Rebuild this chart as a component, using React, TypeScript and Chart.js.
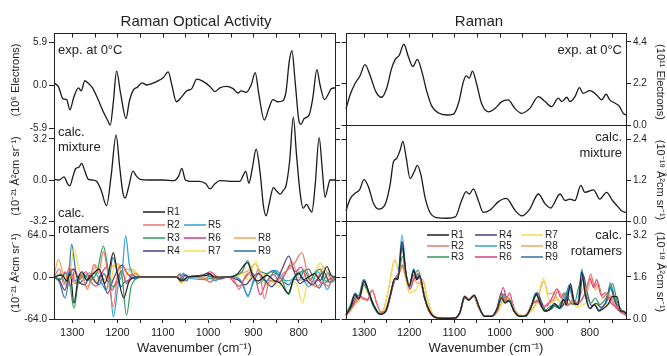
import React, { useEffect, useRef } from 'react';
import { Chart, registerables } from 'chart.js';

Chart.register(...registerables);

const FONT = '"Liberation Sans", Arial, Helvetica, sans-serif';
const INK = '#222222';

type Pt = [number, number];

// ---------- axes ----------
const xMin = 720;
const xMax = 1340;
const xTicks = [1300, 1250, 1200, 1150, 1100, 1050, 1000, 950, 900, 850, 800, 750];
const xTitle = 'Wavenumber (cm⁻¹)';

const roaExpTicks = [-5.9, 0, 5.9];
const roaMixTicks = [-3.2, 0, 3.2];
const roaRotTicks = [-64, 0, 64];
const ramExpTicks = [0, 2.2, 4.4];
const ramMixTicks = [0, 1.2, 2.4];
const ramRotTicks = [0, 1.6, 3.2];

const rotNames = ['R1', 'R2', 'R3', 'R4', 'R5', 'R6', 'R7', 'R8', 'R9'];
const rotColors = ['#1f1f1f', '#e8776a', '#2e9c5a', '#4b3c7e', '#2f9fd8', '#d93c7c', '#f3dc4a', '#f2a65a', '#2f6f9f'];

// ---------- ROA data ----------
const roaExp: Pt[] = [[1340,0.3],[1330,-0.25],[1320,-1.9],[1312,-2.0],[1305,-3.4],[1296,-1.6],[1286,-0.4],[1280,-0.8],[1272,0.6],[1264,0.2],[1255,-0.4],[1242,-2.1],[1231,-3.7],[1222,-4.8],[1216,-5.5],[1209,-2.3],[1202,1.9],[1193,-1.2],[1181,-4.6],[1174,-2.3],[1165,-0.7],[1156,-0.3],[1146,0.3],[1135,0],[1124,0.2],[1113,0.5],[1099,1.0],[1088,1.8],[1080,0],[1070,-2.3],[1058,-1.6],[1047,-0.8],[1036,-0.5],[1025,0.8],[1011,0.5],[996,-0.2],[985,-0.9],[974,-0.4],[960,-0.2],[945,-0.5],[934,-1.1],[927,-0.8],[916,-1.0],[905,0],[896,1.7],[888,-1.3],[876,-4.8],[866,-3.2],[857,-2.0],[846,-2.3],[836,-2.2],[828,-0.9],[821,3.2],[815,4.7],[808,0.5],[799,-5.1],[795,-5.4],[788,-4.6],[777,-4.1],[769,-1.8],[760,2.1],[753,0],[743,-2.0],[736,-1.4],[728,-0.5],[720,-0.4]];

const roaMix: Pt[] = [[1340,0.05],[1328,0],[1318,0.25],[1310,-0.3],[1305,-0.45],[1298,0.3],[1292,0.9],[1285,1.0],[1279,1.3],[1272,0.7],[1264,0.05],[1255,0],[1246,-0.1],[1236,-0.8],[1224,-2.0],[1214,0.3],[1203,3.5],[1195,1.0],[1188,-1.0],[1183,-1.4],[1175,-0.5],[1166,0.7],[1158,0.3],[1150,0.05],[1130,0],[1100,0],[1075,-0.05],[1065,0.3],[1058,0.9],[1050,0],[1040,-0.1],[1020,-0.1],[1005,-0.3],[996,-0.7],[985,-0.3],[974,-0.05],[950,-0.1],[930,-0.1],[922,0.4],[917,0.7],[910,-0.25],[903,0.8],[894,2.4],[885,0.5],[878,-2.0],[872,-2.8],[865,-1.8],[856,-0.6],[848,-0.9],[841,-1.1],[834,-0.8],[828,-0.45],[820,1.5],[812,4.9],[805,2.0],[797,-1.0],[790,-2.2],[783,-1.9],[776,-2.3],[771,-2.5],[764,-0.5],[755,3.3],[748,0.8],[742,-1.35],[736,-0.6],[731,0],[720,0]];

const roaR1: Pt[] = [[1340,0],[1322,3],[1312,-6],[1304,5],[1296,-40],[1287,-3],[1278,8],[1268,-5],[1255,4],[1240,12],[1228,-10],[1220,5],[1209,37],[1200,5],[1186,-32],[1175,-8],[1160,0],[1070,0],[1060,-6],[1052,-4],[1045,0],[1005,2],[996,5],[988,0],[950,0],[935,5],[913,22],[902,2],[890,-6],[870,3],[855,-5],[840,-10],[823,-25],[812,-4],[800,6],[790,-4],[778,0],[765,5],[752,-5],[738,16],[728,2],[720,0]];
const roaR2: Pt[] = [[1340,0],[1328,12],[1318,-12],[1306,15],[1294,-10],[1280,4],[1266,-19],[1252,19],[1242,5],[1231,39],[1222,8],[1209,-45],[1198,12],[1188,15],[1176,3],[1160,5],[1150,0],[1070,0],[1060,4],[1052,-5],[1042,0],[1005,-3],[996,-8],[985,-2],[950,0],[940,-8],[932,-19],[922,-4],[912,6],[900,-2],[888,12],[876,-33],[864,-5],[850,-8],[835,5],[822,12],[810,20],[793,37],[782,10],[770,-10],[760,-15],[748,-8],[735,-14],[725,-3],[720,0]];
const roaR3: Pt[] = [[1340,0],[1325,-3],[1314,6],[1305,-10],[1296,-48],[1287,-10],[1276,5],[1260,-5],[1245,8],[1231,47],[1220,10],[1210,-15],[1198,-5],[1192,8],[1180,-58],[1170,-15],[1160,-3],[1150,0],[1070,0],[1062,5],[1054,-3],[1045,0],[1000,3],[990,-2],[960,0],[925,8],[913,25],[902,5],[890,-10],[878,-3],[862,8],[850,5],[838,-3],[822,-27],[812,-5],[800,5],[788,10],[775,-5],[765,6],[752,12],[742,-5],[730,-8],[720,0]];
const roaR4: Pt[] = [[1340,0],[1328,-5],[1316,-20],[1306,5],[1296,12],[1286,-6],[1272,-12],[1260,3],[1245,-10],[1236,4],[1222,-25],[1210,-5],[1200,10],[1190,18],[1178,5],[1160,-3],[1150,0],[1070,0],[1060,-4],[1050,3],[1040,0],[1010,3],[1000,6],[990,2],[975,-3],[960,0],[935,-4],[918,-12],[905,-3],[890,5],[875,-5],[860,-15],[848,-5],[835,15],[822,32],[810,8],[798,-10],[785,-5],[770,-12],[758,-3],[745,8],[732,-8],[720,0]];
const roaR5: Pt[] = [[1340,0],[1326,4],[1316,-8],[1305,10],[1294,-6],[1280,3],[1265,-5],[1250,6],[1236,-8],[1225,-20],[1218,-5],[1209,-61],[1198,-10],[1190,5],[1182,63],[1174,20],[1165,3],[1155,0],[1070,0],[1062,-3],[1055,6],[1048,0],[1005,-4],[995,-2],[985,-6],[970,0],[940,0],[925,-8],[912,-30],[900,-5],[888,5],[870,-6],[852,10],[840,4],[828,-6],[815,-4],[800,8],[788,-6],[778,-15],[768,-5],[758,8],[748,-3],[737,-19],[728,-6],[720,0]];
const roaR6: Pt[] = [[1340,0],[1326,-4],[1315,8],[1304,-14],[1294,10],[1284,-4],[1270,8],[1258,-8],[1246,-14],[1235,5],[1224,15],[1212,-20],[1202,-5],[1190,10],[1180,-10],[1168,3],[1155,0],[1070,0],[1062,-2],[1052,4],[1042,0],[1005,5],[995,8],[985,3],[972,-3],[955,0],[940,-10],[930,-14],[920,-3],[905,8],[895,-3],[885,-27],[872,-8],[855,4],[842,-8],[830,5],[818,18],[808,8],[795,15],[782,-4],[770,-12],[758,-5],[745,-10],[732,-3],[720,0]];
const roaR7: Pt[] = [[1340,0],[1326,5],[1316,-10],[1306,-5],[1296,45],[1286,15],[1275,-5],[1262,5],[1250,-8],[1238,3],[1224,-20],[1214,-5],[1205,20],[1196,14],[1186,-5],[1176,8],[1166,12],[1155,5],[1145,0],[1070,0],[1062,-5],[1055,-8],[1048,-2],[1040,0],[1000,-2],[990,3],[975,0],[940,0],[925,5],[910,-5],[895,24],[884,5],[870,3],[856,-8],[843,-14],[830,-5],[818,-6],[805,-10],[792,-40],[782,-12],[770,0],[752,21],[742,5],[730,-6],[720,0]];
const roaR8: Pt[] = [[1340,2],[1330,27],[1320,5],[1310,-8],[1300,12],[1290,-10],[1280,5],[1268,-15],[1258,-5],[1250,19],[1240,8],[1230,-5],[1218,10],[1208,18],[1198,20],[1190,8],[1180,12],[1168,10],[1155,3],[1145,0],[1070,0],[1060,-9],[1052,-4],[1044,0],[1010,-3],[995,-8],[985,-3],[970,0],[940,0],[925,6],[910,10],[896,20],[885,5],[870,-12],[858,-5],[845,-8],[830,5],[815,24],[805,8],[795,-5],[783,5],[770,-8],[760,-3],[745,15],[735,3],[725,-5],[720,0]];
const roaR9: Pt[] = [[1340,0],[1328,-8],[1316,-32],[1308,-5],[1301,50],[1292,8],[1284,-10],[1275,-3],[1262,6],[1250,-6],[1240,-12],[1230,5],[1220,-8],[1210,30],[1200,5],[1192,-15],[1185,-8],[1175,-5],[1160,0],[1070,0],[1062,3],[1055,-5],[1048,-6],[1040,0],[1005,-2],[995,2],[985,-5],[975,-2],[960,0],[940,0],[925,-10],[912,-28],[900,-8],[885,8],[870,5],[856,10],[845,3],[832,-8],[822,-12],[812,-3],[800,-5],[790,8],[778,12],[766,-6],[755,-17],[745,-5],[735,6],[726,-8],[720,-3]];

// ---------- Raman data ----------
const ramExp: Pt[] = [[1340,0.85],[1331,1.59],[1320,2.2],[1309,2.6],[1298,3.2],[1287,2.65],[1274,1.77],[1261,1.47],[1250,1.95],[1239,3.0],[1231,3.48],[1222,3.7],[1212,4.28],[1202,3.63],[1192,3.1],[1182,3.48],[1172,2.83],[1161,1.77],[1150,1.0],[1136,0.65],[1117,0.53],[1102,0.58],[1091,1.15],[1080,2.3],[1074,2.6],[1067,2.48],[1060,2.86],[1051,2.2],[1040,1.15],[1025,0.7],[1010,0.88],[995,1.24],[981,1.33],[966,0.88],[951,0.62],[933,0.88],[914,1.5],[899,1.24],[885,0.97],[870,1.42],[862,1.24],[851,1.47],[844,1.24],[833,1.5],[823,1.98],[815,1.68],[800,1.82],[785,1.59],[774,1.33],[764,1.63],[756,1.33],[744,1.15],[735,1.0],[726,0.62],[720,0.53]];

const ramMix: Pt[] = [[1340,0.3],[1331,0.64],[1320,0.81],[1310,0.91],[1300,1.21],[1290,0.99],[1279,0.51],[1268,0.35],[1253,0.5],[1242,1.09],[1235,1.73],[1228,1.83],[1220,2.08],[1214,2.33],[1207,1.88],[1198,1.24],[1189,1.44],[1182,1.63],[1174,1.34],[1165,0.69],[1154,0.25],[1139,0.1],[1117,0.08],[1098,0.12],[1084,0.6],[1074,0.86],[1067,0.79],[1058,0.94],[1047,0.6],[1036,0.25],[1021,0.32],[1003,0.56],[985,0.66],[966,0.32],[951,0.15],[933,0.35],[914,0.79],[899,0.5],[887,0.38],[866,0.79],[855,0.6],[844,0.64],[833,0.6],[820,1.04],[811,0.84],[792,0.91],[778,0.64],[763,0.84],[750,0.6],[740,0.45],[730,0.3],[720,0.25]];

const ramR1: Pt[] = [[1340,0.15],[1330,0.45],[1320,0.95],[1312,0.75],[1300,1.45],[1290,1.05],[1278,0.5],[1264,0.18],[1252,0.3],[1242,0.9],[1232,1.55],[1225,1.5],[1216,2.95],[1207,1.7],[1200,1.25],[1190,1.85],[1184,1.5],[1177,1.65],[1166,0.8],[1155,0.3],[1142,0.06],[1125,0.02],[1100,0.03],[1088,0.25],[1077,0.85],[1068,0.72],[1056,0.9],[1045,0.45],[1033,0.1],[1018,0.1],[1006,0.35],[996,0.8],[988,0.6],[980,0.7],[968,0.3],[955,0.1],[942,0.12],[930,0.45],[919,0.95],[910,0.6],[900,0.3],[890,0.35],[878,0.6],[868,0.4],[858,0.75],[852,0.55],[843,1.35],[834,0.6],[826,0.55],[818,1.8],[810,0.9],[800,0.4],[790,0.55],[780,0.3],[770,0.4],[760,0.55],[750,0.85],[740,0.85],[732,0.3],[725,0.3],[720,0.2]];
const ramR2: Pt[] = [[1340,0.15],[1330,0.35],[1320,0.6],[1312,0.85],[1302,0.75],[1292,0.7],[1282,1.1],[1272,0.6],[1262,0.25],[1250,0.4],[1240,1.1],[1230,1.6],[1222,1.8],[1215,2.05],[1206,1.6],[1198,1.25],[1190,1.55],[1180,1.75],[1170,1.1],[1158,0.35],[1145,0.08],[1125,0.02],[1100,0.03],[1088,0.25],[1076,0.85],[1068,0.75],[1058,0.9],[1046,0.45],[1033,0.1],[1018,0.1],[1006,0.3],[994,0.95],[986,0.7],[976,0.8],[966,0.3],[952,0.1],[938,0.2],[926,0.6],[915,0.65],[905,0.45],[893,0.6],[880,0.75],[870,1.1],[860,0.7],[850,0.5],[838,0.75],[828,0.6],[815,0.8],[805,1.3],[798,1.72],[790,1.2],[782,1.4],[772,0.8],[762,0.95],[752,0.7],[742,0.5],[732,0.3],[720,0.15]];
const ramR3: Pt[] = [[1340,0.2],[1330,0.55],[1320,0.9],[1312,0.9],[1302,1.3],[1292,1.1],[1280,0.55],[1266,0.2],[1254,0.3],[1242,0.9],[1232,1.5],[1222,1.8],[1215,2.4],[1208,1.7],[1200,1.3],[1192,1.6],[1180,1.85],[1170,1.2],[1158,0.4],[1145,0.08],[1125,0.02],[1100,0.03],[1088,0.25],[1077,0.8],[1068,0.72],[1057,0.88],[1046,0.45],[1033,0.1],[1018,0.1],[1006,0.35],[996,0.9],[988,0.65],[978,0.7],[968,0.3],[955,0.1],[942,0.12],[930,0.5],[918,0.9],[908,0.55],[898,0.35],[885,0.5],[872,0.45],[862,0.7],[854,1.0],[845,0.7],[835,0.55],[825,1.2],[817,1.5],[808,0.9],[798,0.6],[788,0.8],[778,0.55],[768,0.7],[758,1.0],[750,1.35],[740,0.7],[730,0.35],[720,0.2]];
const ramR4: Pt[] = [[1340,0.15],[1330,0.4],[1318,0.85],[1310,0.8],[1300,1.4],[1290,1.0],[1278,0.5],[1264,0.2],[1252,0.3],[1242,0.85],[1233,1.5],[1225,1.6],[1216,2.7],[1207,1.7],[1200,1.3],[1190,1.8],[1182,1.55],[1176,1.6],[1166,0.8],[1155,0.3],[1142,0.06],[1125,0.02],[1100,0.03],[1088,0.22],[1077,0.82],[1068,0.72],[1057,0.9],[1046,0.45],[1033,0.1],[1018,0.1],[1006,0.4],[996,1.0],[988,0.65],[978,0.72],[968,0.3],[955,0.1],[942,0.15],[930,0.5],[916,1.0],[906,0.6],[896,0.3],[886,0.4],[876,0.55],[866,0.45],[856,0.6],[843,1.2],[834,0.65],[825,0.6],[815,1.7],[806,1.0],[796,0.5],[786,0.6],[776,0.45],[766,0.6],[755,1.2],[745,0.7],[735,0.35],[725,0.25],[720,0.15]];
const ramR5: Pt[] = [[1340,0.15],[1330,0.5],[1320,1.0],[1312,0.85],[1302,1.5],[1292,1.05],[1280,0.5],[1265,0.18],[1252,0.3],[1242,0.9],[1233,1.5],[1225,1.6],[1216,3.2],[1207,1.75],[1200,1.2],[1190,1.9],[1184,1.55],[1178,1.7],[1166,0.8],[1155,0.3],[1142,0.06],[1125,0.02],[1100,0.03],[1088,0.25],[1078,0.88],[1068,0.72],[1056,0.92],[1045,0.45],[1033,0.1],[1018,0.1],[1006,0.35],[992,0.9],[984,0.65],[975,0.7],[966,0.3],[953,0.1],[940,0.12],[930,0.5],[920,1.0],[910,0.6],[900,0.3],[890,0.35],[878,0.55],[868,0.4],[858,0.7],[846,1.2],[836,0.65],[827,0.6],[818,1.9],[810,0.95],[800,0.4],[790,0.55],[780,0.35],[770,0.5],[762,0.7],[755,1.38],[746,0.8],[735,0.35],[725,0.25],[720,0.15]];
const ramR6: Pt[] = [[1340,0.15],[1330,0.35],[1320,0.7],[1312,0.9],[1302,0.8],[1292,0.75],[1282,1.1],[1272,0.6],[1262,0.25],[1250,0.35],[1240,1.0],[1230,1.55],[1222,1.75],[1215,2.05],[1206,1.55],[1198,1.15],[1190,1.5],[1180,1.7],[1170,1.1],[1158,0.35],[1145,0.08],[1125,0.02],[1100,0.03],[1088,0.22],[1077,0.82],[1068,0.75],[1058,0.9],[1046,0.45],[1033,0.1],[1018,0.1],[1004,0.35],[992,1.2],[984,0.8],[978,1.0],[968,0.35],[955,0.1],[940,0.15],[928,0.55],[916,0.7],[906,0.45],[895,0.5],[884,0.8],[873,1.15],[864,0.8],[858,1.0],[848,0.55],[838,0.6],[828,0.55],[818,0.75],[808,1.1],[800,1.55],[792,1.2],[785,1.5],[775,0.9],[765,1.0],[755,0.65],[745,0.5],[735,0.3],[720,0.15]];
const ramR7: Pt[] = [[1340,0.12],[1330,0.3],[1320,0.55],[1310,0.75],[1300,1.2],[1290,0.95],[1280,0.5],[1268,0.2],[1256,0.4],[1245,1.2],[1238,1.9],[1232,2.27],[1224,1.95],[1216,1.95],[1208,1.55],[1200,1.0],[1190,1.05],[1180,1.25],[1170,1.4],[1160,0.8],[1150,0.25],[1138,0.05],[1120,0.02],[1100,0.03],[1088,0.25],[1078,0.8],[1068,0.72],[1058,0.9],[1048,0.5],[1035,0.12],[1018,0.1],[1004,0.3],[990,0.7],[982,0.8],[972,0.55],[962,0.25],[948,0.12],[932,0.25],[918,0.6],[903,1.55],[894,0.9],[884,0.6],[872,0.8],[862,0.5],[850,0.55],[840,0.65],[828,0.45],[815,0.55],[805,0.6],[795,0.5],[785,0.55],[775,0.45],[765,0.55],[755,0.6],[745,0.45],[735,0.3],[720,0.15]];
const ramR8: Pt[] = [[1340,0.12],[1330,0.35],[1320,0.6],[1310,0.8],[1300,1.3],[1290,1.0],[1280,0.55],[1268,0.22],[1256,0.4],[1245,1.2],[1238,1.9],[1232,2.25],[1224,1.9],[1216,2.0],[1208,1.6],[1200,1.1],[1190,1.5],[1180,1.35],[1170,1.5],[1160,0.8],[1150,0.25],[1138,0.05],[1120,0.02],[1100,0.03],[1088,0.25],[1078,0.82],[1068,0.74],[1058,0.88],[1048,0.5],[1035,0.12],[1018,0.1],[1004,0.3],[992,0.75],[984,0.85],[974,0.6],[962,0.25],[948,0.12],[932,0.3],[918,0.65],[901,1.45],[892,0.95],[880,1.0],[870,0.7],[860,0.6],[848,0.75],[838,0.55],[826,0.7],[812,1.2],[804,1.1],[797,1.6],[788,1.1],[782,1.3],[772,0.8],[760,1.0],[750,0.75],[740,0.5],[730,0.3],[720,0.15]];
const ramR9: Pt[] = [[1340,0.15],[1330,0.5],[1320,0.95],[1312,0.8],[1300,1.5],[1290,1.05],[1278,0.5],[1264,0.18],[1252,0.3],[1242,0.9],[1233,1.5],[1225,1.55],[1216,2.8],[1207,1.7],[1200,1.25],[1190,1.9],[1183,1.5],[1177,1.6],[1166,0.8],[1155,0.3],[1142,0.06],[1125,0.02],[1100,0.03],[1088,0.25],[1077,0.85],[1068,0.72],[1056,0.9],[1045,0.45],[1033,0.1],[1018,0.1],[1006,0.35],[990,0.95],[982,0.65],[974,0.7],[966,0.3],[953,0.1],[940,0.12],[930,0.5],[918,1.0],[908,0.6],[898,0.3],[888,0.35],[876,0.5],[866,0.4],[856,0.7],[845,1.3],[836,0.65],[826,0.6],[818,1.8],[810,0.95],[800,0.4],[790,0.55],[780,0.35],[770,0.5],[762,0.7],[754,1.3],[745,0.8],[735,0.35],[725,0.25],[720,0.15]];

const roaRot = [roaR1, roaR2, roaR3, roaR4, roaR5, roaR6, roaR7, roaR8, roaR9];
const ramRot = [ramR1, ramR2, ramR3, ramR4, ramR5, ramR6, ramR7, ramR8, ramR9];

// ---------- drawing helpers ----------
interface TextItem { t: string; x: number; y: number; size: number; align?: CanvasTextAlign; rot?: number }
interface LegendItem { label: string; color: string; x: number; y: number }
interface Series { pts: Pt[]; color: string; width: number }
interface PanelSpec {
  key: string;
  left: number; width: number;
  padTop: number; padBottom: number; padLeft: number; padRight: number;
  yPos: 'left' | 'right'; yWidth: number; yMin: number; yMax: number; yTicks: number[];
  showX: boolean;
  series: Series[];
  frame: { top?: boolean; bottom?: boolean; left?: boolean; right?: boolean };
  mirror: 'left' | 'right';
  topTicks: boolean;
  texts: TextItem[];
  legend: LegendItem[];
}

const decoPlugin = {
  id: 'deco',
  afterDraw(chart: any, _args: any, opts: any) {
    const { ctx, chartArea: a } = chart;
    const ys = chart.scales.y;
    const xs = chart.scales.x;
    const al = (v: number) => Math.round(v) + 0.5;
    const L = al(a.left), R = al(a.right), T = al(a.top), B = al(a.bottom);
    ctx.save();
    ctx.strokeStyle = INK;
    ctx.lineWidth = 1;
    ctx.beginPath();
    if (opts.frame.top) { ctx.moveTo(L, T); ctx.lineTo(R, T); }
    if (opts.frame.bottom) { ctx.moveTo(L, B); ctx.lineTo(R, B); }
    if (opts.frame.left) { ctx.moveTo(L, a.top); ctx.lineTo(L, a.bottom + 1); }
    if (opts.frame.right) { ctx.moveTo(R, a.top); ctx.lineTo(R, a.bottom + 1); }
    for (const v of opts.yTicks) {
      const py = al(ys.getPixelForValue(v));
      if (opts.mirror === 'right') { ctx.moveTo(R, py); ctx.lineTo(R + 5, py); }
      else { ctx.moveTo(L - 5, py); ctx.lineTo(L, py); }
    }
    if (opts.topTicks) {
      for (const v of xTicks) {
        const px = al(xs.getPixelForValue(v));
        ctx.moveTo(px, T); ctx.lineTo(px, T + 4);
      }
    }
    ctx.stroke();

    ctx.fillStyle = INK;
    ctx.textBaseline = 'middle';
    for (const t of opts.texts as TextItem[]) {
      ctx.save();
      ctx.font = `${t.size}px ${FONT}`;
      ctx.textAlign = t.align || 'left';
      ctx.translate(t.x, t.y);
      if (t.rot) ctx.rotate((t.rot * Math.PI) / 180);
      ctx.fillText(t.t, 0, 0);
      ctx.restore();
    }
    for (const l of opts.legend as LegendItem[]) {
      ctx.strokeStyle = l.color;
      ctx.lineWidth = 1.5;
      ctx.beginPath();
      ctx.moveTo(l.x, l.y);
      ctx.lineTo(l.x + 22, l.y);
      ctx.stroke();
      ctx.fillStyle = INK;
      ctx.font = `10px ${FONT}`;
      ctx.textAlign = 'left';
      ctx.fillText(l.label, l.x + 24, l.y);
    }
    ctx.restore();
  },
};

function buildConfig(p: PanelSpec): any {
  return {
    type: 'line',
    data: {
      datasets: p.series.map((s) => ({
        data: s.pts.map(([x, y]) => ({ x, y })),
        borderColor: s.color,
        borderWidth: s.width,
        pointRadius: 0,
        fill: false,
        cubicInterpolationMode: 'monotone',
        clip: false,
      })),
    },
    options: {
      responsive: false,
      animation: false,
      events: [],
      layout: { padding: { left: p.padLeft, right: p.padRight, top: p.padTop, bottom: p.padBottom } },
      plugins: {
        legend: { display: false },
        tooltip: { enabled: false },
        title: { display: false },
        deco: { frame: p.frame, mirror: p.mirror, topTicks: p.topTicks, texts: p.texts, legend: p.legend, yTicks: p.yTicks },
      },
      scales: {
        x: {
          type: 'linear',
          min: xMin,
          max: xMax,
          reverse: true,
          display: p.showX,
          afterBuildTicks: (s: any) => { s.ticks = xTicks.map((v) => ({ value: v })); },
          afterFit: (s: any) => { s.height = p.showX ? 37 : 0; },
          ticks: {
            callback: (v: any) => (Number(v) % 100 === 0 ? String(v) : ''),
            font: { family: FONT, size: 11 },
            color: INK,
            maxRotation: 0,
            autoSkip: false,
            padding: 3,
          },
          grid: { drawOnChartArea: false, drawTicks: true, tickLength: 4, color: INK, lineWidth: 1 },
          border: { display: false },
          title: { display: true, text: xTitle, font: { family: FONT, size: 13 }, color: INK, padding: { top: 0, bottom: 0 } },
        },
        y: {
          type: 'linear',
          position: p.yPos,
          min: p.yMin,
          max: p.yMax,
          afterBuildTicks: (s: any) => { s.ticks = p.yTicks.map((v) => ({ value: v })); },
          afterFit: (s: any) => { s.width = p.yWidth; },
          ticks: {
            callback: (v: any) => Number(v).toFixed(1),
            font: { family: FONT, size: 10 },
            color: INK,
            autoSkip: false,
            padding: 2,
          },
          grid: { drawOnChartArea: false, drawTicks: true, tickLength: 5, color: INK, lineWidth: 1 },
          border: { display: false },
        },
      },
    },
    plugins: [decoPlugin],
  };
}

function Panel({ spec }: { spec: PanelSpec }) {
  const ref = useRef<HTMLCanvasElement>(null);
  useEffect(() => {
    if (!ref.current) return;
    const chart = new Chart(ref.current, buildConfig(spec));
    return () => chart.destroy();
  }, [spec]);
  return (
    <canvas
      ref={ref}
      width={spec.width}
      height={356}
      style={{ position: 'absolute', left: spec.left, top: 0, width: spec.width, height: 356 }}
    />
  );
}

// ---------- panel layout ----------
const H = 356;
const unitsROA = '(10⁻²¹ Å²cm sr⁻¹)';
const unitsRaman = '(10⁻¹⁸ Å²cm sr⁻¹)';
const RL = 335; // left offset of right-hand canvases

const leftLegendCols = [143, 184, 234];
const leftLegendRows = [212, 225, 238, 251];
const leftLegendSlots: [number, number][] = [[0, 0], [0, 1], [0, 2], [0, 3], [1, 1], [1, 2], [1, 3], [2, 2], [2, 3]];
const rightLegendCols = [92, 140, 186];
const rightLegendRows = [235, 246, 257];
const rightLegendSlots: [number, number][] = [[0, 0], [0, 1], [0, 2], [1, 0], [1, 1], [1, 2], [2, 0], [2, 1], [2, 2]];

const blackLine = (pts: Pt[]): Series => ({ pts, color: '#1a1a1a', width: 1.3 });
const rotSeries = (sets: Pt[][]): Series[] => sets.map((pts, i) => ({ pts, color: rotColors[i], width: 1.2 }));

const panels: PanelSpec[] = [
  {
    key: 'L1', left: 0, width: 340, padTop: 33, padBottom: H - 133, padLeft: 0, padRight: 5,
    yPos: 'left', yWidth: 54, yMin: -6.586, yMax: 7.135, yTicks: roaExpTicks, showX: false,
    series: [blackLine(roaExp)], frame: { top: true, left: true, right: true }, mirror: 'right', topTicks: true,
    texts: [
      { t: 'Raman Optical Activity', x: 196, y: 22, size: 15, align: 'center' },
      { t: 'exp. at 0°C', x: 58, y: 50, size: 13 },
      { t: '(10⁶ Electrons)', x: 16, y: 80, size: 11, align: 'center', rot: -90 },
    ],
    legend: [],
  },
  {
    key: 'L2', left: 0, width: 340, padTop: 133, padBottom: H - 228, padLeft: 0, padRight: 5,
    yPos: 'left', yWidth: 54, yMin: -3.746, yMax: 3.668, yTicks: roaMixTicks, showX: false,
    series: [blackLine(roaMix)], frame: { left: true, right: true }, mirror: 'right', topTicks: false,
    texts: [
      { t: 'calc.', x: 58, y: 132, size: 13 },
      { t: 'mixture', x: 58, y: 147, size: 13 },
      { t: unitsROA, x: 16, y: 176, size: 11, align: 'center', rot: -90 },
    ],
    legend: [],
  },
  {
    key: 'L3', left: 0, width: 340, padTop: 228, padBottom: 0, padLeft: 0, padRight: 5,
    yPos: 'left', yWidth: 54, yMin: -64, yMax: 74.67, yTicks: roaRotTicks, showX: true,
    series: rotSeries(roaRot), frame: { left: true, right: true, bottom: true }, mirror: 'right', topTicks: false,
    texts: [
      { t: 'calc.', x: 58, y: 213, size: 13 },
      { t: 'rotamers', x: 58, y: 229, size: 13 },
      { t: unitsROA, x: 16, y: 273, size: 11, align: 'center', rot: -90 },
    ],
    legend: rotNames.map((n, i) => ({ label: n, color: rotColors[i], x: leftLegendCols[leftLegendSlots[i][0]], y: leftLegendRows[leftLegendSlots[i][1]] })),
  },
  {
    key: 'R1', left: RL, width: 332, padTop: 33, padBottom: H - 125, padLeft: 11, padRight: 0,
    yPos: 'right', yWidth: 41, yMin: 0, yMax: 4.877, yTicks: ramExpTicks, showX: false,
    series: [blackLine(ramExp)], frame: { top: true, left: true, right: true, bottom: true }, mirror: 'left', topTicks: true,
    texts: [
      { t: 'Raman', x: 479 - RL, y: 22, size: 15, align: 'center' },
      { t: 'exp. at 0°C', x: 622 - RL, y: 50, size: 13, align: 'right' },
      { t: '(10¹¹ Electrons)', x: 660 - RL, y: 82, size: 11, align: 'center', rot: 90 },
    ],
    legend: [],
  },
  {
    key: 'R2', left: RL, width: 332, padTop: 125, padBottom: H - 221, padLeft: 11, padRight: 0,
    yPos: 'right', yWidth: 41, yMin: 0, yMax: 2.81, yTicks: ramMixTicks, showX: false,
    series: [blackLine(ramMix)], frame: { left: true, right: true, bottom: true }, mirror: 'left', topTicks: false,
    texts: [
      { t: 'calc.', x: 622 - RL, y: 137, size: 13, align: 'right' },
      { t: 'mixture', x: 622 - RL, y: 153, size: 13, align: 'right' },
      { t: unitsRaman, x: 660 - RL, y: 180, size: 11, align: 'center', rot: 90 },
    ],
    legend: [],
  },
  {
    key: 'R3', left: RL, width: 332, padTop: 221, padBottom: 0, padLeft: 11, padRight: 0,
    yPos: 'right', yWidth: 41, yMin: 0, yMax: 3.733, yTicks: ramRotTicks, showX: true,
    series: rotSeries(ramRot), frame: { left: true, right: true, bottom: true }, mirror: 'left', topTicks: false,
    texts: [
      { t: 'calc.', x: 622 - RL, y: 235, size: 13, align: 'right' },
      { t: 'rotamers', x: 622 - RL, y: 251, size: 13, align: 'right' },
      { t: unitsRaman, x: 660 - RL, y: 272, size: 11, align: 'center', rot: 90 },
    ],
    legend: rotNames.map((n, i) => ({ label: n, color: rotColors[i], x: rightLegendCols[rightLegendSlots[i][0]], y: rightLegendRows[rightLegendSlots[i][1]] })),
  },
];

export default function App() {
  return (
    <div style={{ position: 'absolute', left: 0, top: 0, width: 667, height: 356, background: '#ffffff', overflow: 'hidden' }}>
      {panels.map((p) => (
        <Panel key={p.key} spec={p} />
      ))}
    </div>
  );
}
